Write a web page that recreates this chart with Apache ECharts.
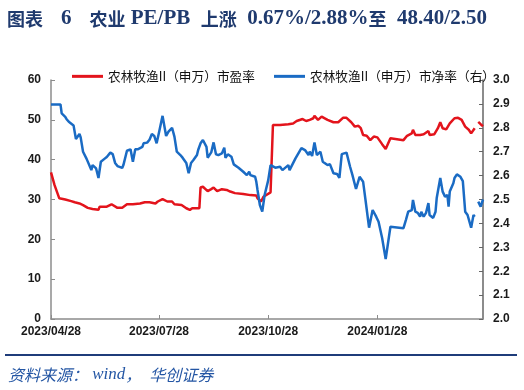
<!DOCTYPE html>
<html><head><meta charset="utf-8">
<script src="https://cdn.jsdelivr.net/npm/echarts@6/dist/echarts.min.js"></script>
<style>html,body{margin:0;padding:0;background:#fff}#c{width:524px;height:390px}</style>
</head><body><div id="c"></div>
<script>
const titleText = '{c|图表　}{l|6}{c|　农业}{l| PE/PB  }{c|上涨}{l|  0.67%/2.88%}{c|至}{l|  48.40/2.50}';
const sourceText = '{c|资料来源：}{l| wind}{c|，　华创证券}';
const peName = '农林牧渔II（申万）市盈率';
const pbName = '农林牧渔II（申万）市净率（右）';
const tickDates = ['2023-04-28','2023-07-28','2023-10-28','2024-01-28'];
const xMin = '2023-04-28', xMax = '2024-04-26';

const peDates = ['2023-04-28','2023-05-01','2023-05-05','2023-05-10','2023-05-15','2023-05-18','2023-05-22','2023-05-25','2023-05-29','2023-06-02','2023-06-07','2023-06-08','2023-06-14','2023-06-18','2023-06-23','2023-06-27','2023-07-01','2023-07-06','2023-07-12','2023-07-16','2023-07-20','2023-07-25','2023-07-27','2023-07-31','2023-08-04','2023-08-08','2023-08-10','2023-08-16','2023-08-20','2023-08-23','2023-08-25','2023-08-31','2023-09-01','2023-09-03','2023-09-07','2023-09-10','2023-09-12','2023-09-15','2023-09-19','2023-09-23','2023-09-26','2023-09-30','2023-10-07','2023-10-13','2023-10-18','2023-10-19','2023-10-22','2023-10-24','2023-10-25','2023-10-30','2023-10-31','2023-11-01','2023-11-07','2023-11-14','2023-11-18','2023-11-21','2023-11-26','2023-11-29','2023-12-02','2023-12-05','2023-12-06','2023-12-09','2023-12-12','2023-12-17','2023-12-22','2023-12-26','2023-12-30','2024-01-02','2024-01-06','2024-01-09','2024-01-12','2024-01-14','2024-01-16','2024-01-19','2024-01-22','2024-01-25','2024-01-28','2024-02-01','2024-02-04','2024-02-08','2024-02-19','2024-02-22','2024-02-26','2024-02-27','2024-02-29','2024-03-04','2024-03-07','2024-03-11','2024-03-12','2024-03-16','2024-03-19','2024-03-21','2024-03-23','2024-03-26','2024-03-29','2024-04-02','2024-04-05','2024-04-08','2024-04-11','2024-04-14','2024-04-16','2024-04-19','2024-04-20','2024-04-22','2024-04-24','2024-04-26'];
const peValues = [36.8,33.6,30.3,30.0,29.6,29.3,29.0,28.6,27.9,27.6,27.4,28.2,28.2,28.8,27.9,27.9,28.8,28.8,29.0,29.3,29.3,29.0,29.5,30.1,29.5,29.5,28.8,28.6,27.8,27.4,27.8,27.8,33.0,33.2,32.1,32.6,33.0,32.1,32.6,32.4,32.0,31.6,31.4,31.1,31.0,30.3,29.5,30.7,31.2,31.8,32.0,48.7,48.7,48.9,49.1,49.7,50.2,49.7,50.0,50.4,51.0,50.0,50.8,50.0,49.4,49.4,50.5,50.5,49.4,48.3,48.5,47.9,46.2,46.0,44.9,45.8,45.6,43.9,42.7,45.4,44.9,46.0,46.6,47.5,46.2,46.2,46.4,47.2,46.2,46.4,47.9,49.4,47.9,47.6,49.1,50.4,50.5,50.0,48.3,47.5,46.6,47.9,null,49.5,48.9,48.4];

const pbDates = ['2023-04-28','2023-05-06','2023-05-07','2023-05-10','2023-05-11','2023-05-13','2023-05-17','2023-05-19','2023-05-22','2023-05-23','2023-05-25','2023-05-28','2023-06-01','2023-06-02','2023-06-05','2023-06-07','2023-06-09','2023-06-12','2023-06-14','2023-06-17','2023-06-19','2023-06-21','2023-06-23','2023-06-27','2023-06-28','2023-07-01','2023-07-04','2023-07-06','2023-07-08','2023-07-10','2023-07-14','2023-07-15','2023-07-18','2023-07-20','2023-07-22','2023-07-24','2023-07-26','2023-07-28','2023-07-31','2023-08-03','2023-08-05','2023-08-08','2023-08-10','2023-08-12','2023-08-15','2023-08-17','2023-08-18','2023-08-20','2023-08-22','2023-08-24','2023-08-26','2023-08-29','2023-08-30','2023-09-01','2023-09-03','2023-09-06','2023-09-07','2023-09-10','2023-09-12','2023-09-14','2023-09-16','2023-09-19','2023-09-21','2023-09-22','2023-09-24','2023-09-27','2023-09-29','2023-10-03','2023-10-07','2023-10-10','2023-10-12','2023-10-13','2023-10-17','2023-10-18','2023-10-19','2023-10-21','2023-10-23','2023-10-25','2023-10-28','2023-10-30','2023-11-03','2023-11-07','2023-11-09','2023-11-14','2023-11-15','2023-11-20','2023-11-25','2023-11-28','2023-12-01','2023-12-02','2023-12-04','2023-12-06','2023-12-08','2023-12-11','2023-12-13','2023-12-17','2023-12-19','2023-12-22','2023-12-25','2023-12-27','2023-12-29','2024-01-02','2024-01-05','2024-01-07','2024-01-10','2024-01-13','2024-01-16','2024-01-18','2024-01-21','2024-01-24','2024-01-27','2024-01-29','2024-02-01','2024-02-04','2024-02-08','2024-02-19','2024-02-21','2024-02-23','2024-02-26','2024-02-27','2024-02-29','2024-03-02','2024-03-04','2024-03-05','2024-03-07','2024-03-09','2024-03-11','2024-03-12','2024-03-15','2024-03-17','2024-03-18','2024-03-21','2024-03-23','2024-03-25','2024-03-27','2024-03-28','2024-03-29','2024-04-01','2024-04-02','2024-04-04','2024-04-07','2024-04-09','2024-04-11','2024-04-13','2024-04-16','2024-04-18','2024-04-19','2024-04-20','2024-04-22','2024-04-24','2024-04-26'];
const pbValues = [2.898,2.898,2.86,2.846,2.837,2.825,2.81,2.753,2.774,2.76,2.70,2.67,2.623,2.644,2.63,2.59,2.658,2.67,2.678,2.696,2.69,2.653,2.64,2.632,2.644,2.704,2.71,2.658,2.71,2.71,2.72,2.735,2.738,2.75,2.774,2.766,2.735,2.78,2.85,2.766,2.784,2.80,2.763,2.70,2.686,2.674,2.679,2.653,2.61,2.653,2.665,2.686,2.707,2.735,2.749,2.72,2.675,2.697,2.739,2.689,2.686,2.693,2.717,2.674,2.689,2.679,2.647,2.633,2.616,2.602,2.616,2.602,2.595,2.574,2.54,2.477,2.449,2.519,2.58,2.644,2.633,2.637,2.623,2.644,2.623,2.672,2.715,2.707,2.686,2.70,2.682,2.739,2.686,2.70,2.658,2.644,2.648,2.61,2.607,2.59,2.69,2.696,2.637,2.602,2.544,2.595,2.574,2.498,2.382,2.456,2.428,2.407,2.339,2.251,2.386,2.38,2.414,2.449,2.456,2.498,2.449,2.444,2.428,2.449,2.428,2.444,2.485,2.435,2.423,2.449,2.506,2.59,2.533,2.512,2.519,2.47,2.533,2.568,2.59,2.605,2.595,2.577,2.449,2.435,2.382,2.435,2.428,null,2.491,2.47,2.50];

function ts(s){ const p = s.split('-').map(Number); return new Date(p[0], p[1]-1, p[2]).getTime(); }
function pad(n){ return (n<10?'0':'')+n; }
function fmt(v){ const d = new Date(v); return d.getFullYear()+'/'+pad(d.getMonth()+1)+'/'+pad(d.getDate()); }

const chart = echarts.init(document.getElementById('c'), null, {renderer:'canvas'});
const labelStyle = {color:'#1a1a1a', fontSize:12, fontWeight:'bold', fontFamily:"Arial, 'Liberation Sans', sans-serif"};
const axisGray = '#8c8c8c';
const serif = "'Times New Roman','Liberation Serif',serif";
const cjk = "'Noto Sans CJK SC', sans-serif";
const titleColor = '#1f3a6e';
const srcColor = '#2456a4';
chart.setOption({
  animation:false,
  backgroundColor:'#fff',
  title:{text:titleText, left:7, top:4, padding:0, textStyle:{color:titleColor, fontSize:18, fontWeight:'bold', fontFamily:cjk,
    rich:{
      c:{color:titleColor, fontSize:18, fontWeight:'bold', fontFamily:cjk, verticalAlign:'bottom', lineHeight:24},
      l:{color:titleColor, fontSize:21, fontWeight:'bold', fontFamily:serif, verticalAlign:'bottom', lineHeight:24, padding:[0,0,-1,0]}
    }}},
  legend:{left:72, top:70, padding:0, itemGap:19, itemWidth:31, itemHeight:3, icon:'rect', textStyle:{color:'#111', fontSize:12.7, fontFamily:cjk}, data:[peName,pbName]},
  grid:{left:51, right:41, top:80, bottom:71},
  xAxis:{type:'value', min:ts(xMin), max:ts(xMax),
    axisLine:{lineStyle:{color:axisGray, width:1.5}},
    axisTick:{show:true, inside:true, length:4, customValues:tickDates.map(ts), lineStyle:{color:axisGray}},
    axisLabel:Object.assign({customValues:tickDates.map(ts), formatter:fmt, margin:7}, labelStyle),
    splitLine:{show:false}},
  yAxis:[
    {type:'value', min:0, max:60, interval:10, position:'left',
      axisLine:{show:true, lineStyle:{color:axisGray, width:1.5}},
      axisTick:{show:true, inside:true, length:4, lineStyle:{color:axisGray}},
      axisLabel:Object.assign({margin:10}, labelStyle), splitLine:{show:false}},
    {type:'value', min:2.0, max:3.0, interval:0.1, position:'right',
      axisLine:{show:true, lineStyle:{color:'#666', width:1.5}},
      axisTick:{show:true, inside:true, length:4, lineStyle:{color:'#666'}},
      axisLabel:Object.assign({margin:10, formatter:v=>v.toFixed(1)}, labelStyle), splitLine:{show:false}}
  ],
  series:[
    {name:peName, type:'line', yAxisIndex:0, symbol:'none', connectNulls:false,
      lineStyle:{color:'#e3141c', width:2.5}, itemStyle:{color:'#e3141c'},
      data:peDates.map((d,i)=>[ts(d), peValues[i]])},
    {name:pbName, type:'line', yAxisIndex:1, symbol:'none', connectNulls:false,
      lineStyle:{color:'#1a6bc4', width:2.5}, itemStyle:{color:'#1a6bc4'},
      data:pbDates.map((d,i)=>[ts(d), pbValues[i]])}
  ],
  graphic:[
    {type:'rect', shape:{x:5, y:354, width:512, height:2}, style:{fill:'#1f3c7a'}},
    {type:'text', left:8, top:366, style:{text:sourceText, fill:srcColor, fontSize:16, fontStyle:'italic', fontFamily:cjk,
      rich:{
        c:{fill:srcColor, fontSize:16, fontStyle:'italic', fontFamily:cjk, verticalAlign:'bottom', lineHeight:20},
        l:{fill:srcColor, fontSize:17, fontStyle:'italic', fontFamily:serif, verticalAlign:'bottom', lineHeight:20}
      }}}
  ]
});
</script></body></html>
